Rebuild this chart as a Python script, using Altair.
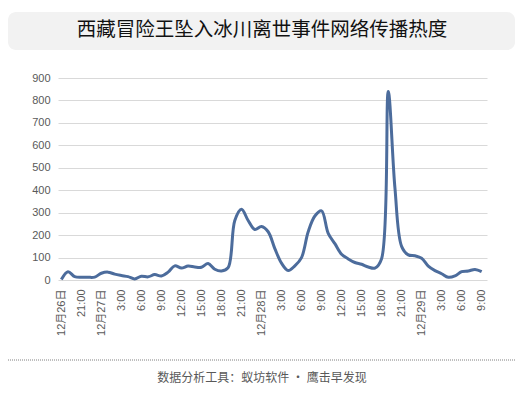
import json
import altair as alt
import pandas as pd

# hours since 12月26日 18:00
hours = list(range(64))
heat = [2, 37, 15, 12, 12, 13, 30, 35, 26, 20,
        15, 5, 17, 14, 24, 18, 35, 63, 53, 62,
        58, 57, 73, 48, 40, 55, 265, 315, 265, 225,
        238, 215, 140, 75, 42, 63, 100, 215, 285, 308,
        208, 162, 115, 94, 78, 70, 58, 53, 95, 840,
        410, 150, 112, 108, 97, 62, 42, 28, 12, 18,
        37, 40, 47, 37]
tick_labels = ["12月26日", "21:00", "12月27日", "3:00", "6:00", "9:00", "12:00",
               "15:00", "18:00", "21:00", "12月28日", "3:00", "6:00", "9:00",
               "12:00", "15:00", "18:00", "21:00", "12月29日", "3:00", "6:00", "9:00"]
y_ticks = list(range(0, 1000, 100))
title_text = "西藏冒险王坠入冰川离世事件网络传播热度"
footer_text = "数据分析工具：蚁坊软件 · 鹰击早发现"

df = pd.DataFrame({"h": hours, "v": heat})
one = alt.Data(values=[{"k": 1}])

FONT = "Liberation Sans, Noto Sans CJK SC"
CJK = "Noto Sans CJK SC"
GRAY = "#595959"

label_expr = json.dumps(tick_labels, ensure_ascii=False) + "[round(datum.value/3)]"

line = alt.Chart(df).mark_line(
    color="#4C6C9C", strokeWidth=3, interpolate="catmull-rom"
).encode(
    x=alt.X("h:Q",
            scale=alt.Scale(domain=[-0.5, 63.8], nice=False, zero=False),
            axis=alt.Axis(values=list(range(0, 64, 3)), labelExpr=label_expr,
                          labelAngle=-90, grid=False, ticks=False, domain=False,
                          labelPadding=9, labelFontSize=11, labelColor=GRAY,
                          labelFont=FONT, labelOverlap=False, labelFlush=False,
                          title=None)),
    y=alt.Y("v:Q",
            scale=alt.Scale(domain=[0, 900], nice=False),
            axis=alt.Axis(values=y_ticks, grid=True, gridColor="#d9d9d9",
                          domain=False, ticks=False, labelPadding=8,
                          labelFontSize=11, labelColor=GRAY, labelFont=FONT,
                          title=None)),
)

title_box = alt.Chart(one).mark_rect(fill="#f2f2f2", cornerRadius=8).encode(
    x=alt.value(-50), x2=alt.value(457), y=alt.value(-66), y2=alt.value(-28)
)
title = alt.Chart(one).mark_text(
    text=title_text, font=CJK, fontSize=19.5, color="#111111",
    align="center", baseline="middle"
).encode(x=alt.value(204), y=alt.value(-48))

footer_rule = alt.Chart(one).mark_rule(
    color="#808080", strokeWidth=1, strokeDash=[1, 1]
).encode(x=alt.value(-50), x2=alt.value(457), y=alt.value(282))
footer = alt.Chart(one).mark_text(
    text=footer_text, font=CJK, fontSize=12, color=GRAY,
    align="center", baseline="middle"
).encode(x=alt.value(204), y=alt.value(300))

chart = alt.layer(title_box, title, footer_rule, footer, line).properties(
    width=429, height=202,
    padding={"left": 50, "top": 70, "right": 29, "bottom": 110},
    autosize=alt.AutoSizeParams(type="none"),
).configure_view(stroke=None)

chart.save("out.html", embed_options={"renderer": "svg", "actions": False})
